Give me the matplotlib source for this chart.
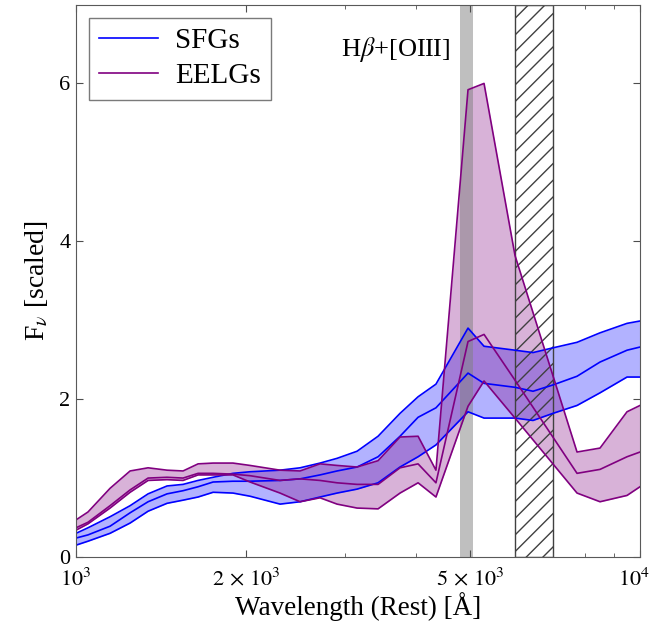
import numpy as np
import matplotlib
matplotlib.use('Agg')
import matplotlib.pyplot as plt
from matplotlib import ticker
from matplotlib.transforms import ScaledTranslation

plt.rcParams['font.family'] = 'serif'
plt.rcParams['font.serif'] = ['Liberation Serif', 'DejaVu Serif']
plt.rcParams['mathtext.fontset'] = 'stix'

# rest wavelengths [A]
wave = [1000, 1050, 1149, 1247, 1342, 1450, 1548, 1646, 1750, 1898, 2035, 2300, 2496,
        2708, 2903, 3150, 3432, 3754, 4041, 4347, 4955, 5290, 6003, 6461, 7010, 7733,
        8494, 9484, 10000]

# SFGs: 16th / 50th / 84th percentile
sfg_hi = [0.30, 0.37, 0.51, 0.65, 0.80, 0.90, 0.92, 0.97, 1.01, 1.06, 1.08, 1.10, 1.13,
          1.19, 1.25, 1.34, 1.53, 1.82, 2.03, 2.19, 2.90, 2.67, 2.62, 2.59, 2.65, 2.72,
          2.84, 2.96, 2.99]
sfg_med = [0.24, 0.28, 0.39, 0.56, 0.70, 0.80, 0.84, 0.89, 0.95, 0.96, 0.96, 0.97, 0.99,
           1.04, 1.09, 1.14, 1.27, 1.53, 1.77, 1.89, 2.33, 2.20, 2.15, 2.10, 2.18, 2.29,
           2.47, 2.62, 2.66]
sfg_lo = [0.15, 0.20, 0.30, 0.43, 0.58, 0.68, 0.72, 0.76, 0.82, 0.81, 0.77, 0.67, 0.70,
          0.76, 0.81, 0.86, 0.94, 1.14, 1.27, 1.42, 1.84, 1.76, 1.76, 1.73, 1.82, 1.92,
          2.08, 2.28, 2.28]

# EELGs
wave_e = [1000, 1050, 1149, 1247, 1342, 1450, 1548, 1646, 1750, 1898, 2035, 2300, 2496,
          2708, 2903, 3150, 3432, 3754, 4041, 4347, 4955, 5290, 6003, 7733, 8494, 9484,
          10000]
eelg_hi = [0.47, 0.57, 0.87, 1.09, 1.13, 1.10, 1.09, 1.18, 1.19, 1.19, 1.16, 1.10, 1.09,
           1.18, 1.16, 1.14, 1.22, 1.52, 1.53, 1.10, 5.92, 6.00, 3.82, 1.33, 1.38, 1.84,
           1.92]
eelg_med = [0.37, 0.44, 0.65, 0.85, 1.00, 1.01, 1.00, 1.06, 1.06, 1.05, 1.03, 0.97, 0.99,
            0.97, 0.94, 0.92, 0.92, 1.13, 1.18, 0.94, 2.73, 2.82, 2.24, 1.06, 1.11, 1.27,
            1.33]
eelg_lo = [0.34, 0.42, 0.62, 0.82, 0.97, 0.98, 0.97, 1.04, 1.04, 1.04, 0.95, 0.81, 0.70,
           0.75, 0.67, 0.62, 0.61, 0.81, 0.94, 0.76, 1.91, 2.23, 1.76, 0.81, 0.70, 0.78,
           0.89]

fig = plt.figure(figsize=(6.52, 6.25), dpi=100)
ax = fig.add_axes([0.1166, 0.1088, 0.865, 0.884])

ax.fill_between(wave, sfg_lo, sfg_hi, color='blue', alpha=0.3, lw=0)
ax.plot(wave, sfg_hi, color='blue', lw=1.2)
ax.plot(wave, sfg_med, color='blue', lw=1.2, label='SFGs')
ax.plot(wave, sfg_lo, color='blue', lw=1.2)

ax.fill_between(wave_e, eelg_lo, eelg_hi, color='purple', alpha=0.3, lw=0)
ax.plot(wave_e, eelg_hi, color='purple', lw=1.2)
ax.plot(wave_e, eelg_med, color='purple', lw=1.2, label='EELGs')
ax.plot(wave_e, eelg_lo, color='purple', lw=1.2)

ax.axvspan(4800, 5050, color='gray', alpha=0.5, lw=0)
ax.axvspan(6000, 7000, facecolor='none', edgecolor='0.25', hatch='//', lw=1)

ax.text(2950, 6.35, r'H$\beta$+[OIII]', fontsize=19)

ax.set_xscale('log')
ax.set_xlim(1000, 10000)
ax.set_ylim(0, 7)
ax.xaxis.set_major_locator(ticker.FixedLocator([1000, 2000, 5000, 10000]))
ax.xaxis.set_major_formatter(ticker.FixedFormatter(
    [r'$10^3$', r'$2\,\times\,10^3$', r'$5\,\times\,10^3$', r'$10^4$']))
ax.xaxis.set_minor_locator(ticker.FixedLocator([3000, 4000, 6000, 7000, 8000, 9000]))
ax.xaxis.set_minor_formatter(ticker.NullFormatter())
ax.set_yticks([0, 2, 4, 6])
ax.tick_params(which='both', direction='in', top=True, right=True, color='0.3')
ax.tick_params(which='major', length=5, labelsize=16)
ax.tick_params(axis='x', which='major', pad=8)
ax.tick_params(axis='y', which='major', pad=4)
ax.tick_params(which='minor', length=3)
for s in ax.spines.values():
    s.set_color('0.35')

# last x label sits right on the figure edge, nudge it in a bit
last = ax.get_xticklabels()[-1]
last.set_transform(last.get_transform() + ScaledTranslation(-4 / 72, 0, fig.dpi_scale_trans))

ax.set_xlabel('Wavelength (Rest) [Å]', fontsize=19.5, labelpad=1)
ax.set_ylabel(r'F$_\nu$ [scaled]', fontsize=20, labelpad=7)

leg = ax.legend(loc='upper left', fontsize=21, fancybox=False, handlelength=2.0,
                handletextpad=0.6, borderaxespad=0.45, borderpad=0.35, labelspacing=0.3)
leg.get_frame().set_edgecolor('0.35')

fig.savefig('out.png', dpi=100)
